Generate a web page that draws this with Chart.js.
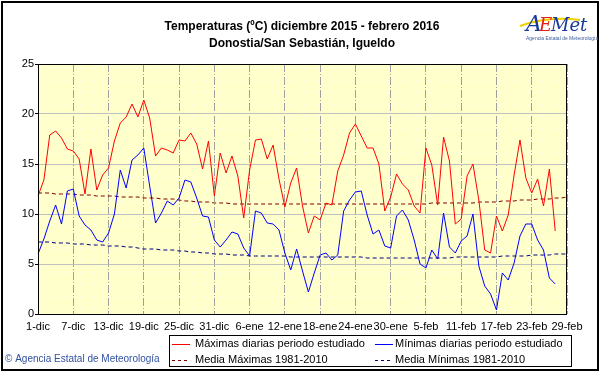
<!DOCTYPE html>
<html>
<head>
<meta charset="utf-8">
<script src="https://cdn.jsdelivr.net/npm/chart.js@4/dist/chart.umd.min.js"></script>
<style>
  html, body { margin: 0; padding: 0; background: #fff; }
  canvas { display: block; }
</style>
</head>
<body>
<canvas id="chart" width="601" height="374"></canvas>
<script>
// months of the period, and how many days each has
const months = ["dic", "ene", "feb"]
const monthDays = [31, 31, 29]

// daily maximum (ºC), 1 dic 2015 .. 29 feb 2016 (no data for the last two days)
const maxDaily = [
  11.8, 13.4, 17.9, 18.3, 17.6, 16.5, 16.3, 15.5, 12.0, 16.5,
  12.4, 13.9, 14.6, 17.3, 19.1, 19.7, 21.0, 19.7, 21.4, 19.6,
  15.8, 16.6, 16.4, 16.1, 17.4, 17.3, 18.1, 17.0, 14.5, 17.3,
  11.8, 16.1, 14.1, 15.8, 13.8, 9.6, 14.4, 17.4, 17.5, 15.5,
  16.9, 13.5, 10.7, 13.1, 14.6, 10.8, 8.1, 9.8, 9.4, 11.1,
  10.9, 14.3, 15.9, 18.1, 19.0, 17.8, 16.6, 16.6, 15.0, 10.3,
  11.7, 14.0, 13.0, 12.4, 10.8, 10.1, 16.6, 14.9, 10.9, 17.7,
  15.3, 9.0, 9.5, 13.8, 15.0, 11.4, 6.4, 6.1, 9.8, 8.3,
  9.9, 13.9, 17.4, 13.6, 12.1, 13.5, 10.8, 14.5, 8.3, null,
  null
]

// daily minimum (ºC)
const minDaily = [
  6.0, 7.5, 9.3, 10.9, 9.0, 12.3, 12.5, 9.8, 8.9, 8.4,
  7.4, 7.2, 8.1, 10.0, 14.4, 12.6, 15.4, 15.9, 16.6, 12.8,
  9.1, 10.1, 11.3, 10.9, 11.6, 13.4, 13.2, 11.6, 9.8, 9.7,
  7.4, 6.7, 7.4, 8.2, 8.0, 6.6, 5.8, 10.3, 10.1, 9.1,
  9.0, 8.4, 6.1, 4.4, 6.5, 4.3, 2.2, 4.1, 5.9, 6.1,
  5.4, 5.9, 10.3, 11.4, 12.2, 12.3, 9.9, 8.0, 8.4, 6.8,
  6.6, 9.8, 10.4, 9.4, 7.4, 5.0, 4.6, 6.4, 5.5, 10.1,
  6.7, 6.1, 7.3, 7.8, 10.0, 4.8, 2.8, 2.0, 0.4, 4.1,
  3.4, 5.1, 7.8, 9.0, 9.0, 7.4, 6.4, 3.6, 3.0, null,
  null
]

// normals 1981-2010
const meanMax = [
  12.1, 12.1, 12.1, 12.0, 12.0, 12.0, 12.0, 11.9, 11.9, 11.9,
  11.8, 11.8, 11.8, 11.8, 11.7, 11.7, 11.7, 11.7, 11.6, 11.6,
  11.6, 11.5, 11.5, 11.5, 11.4, 11.3, 11.3, 11.2, 11.2, 11.2,
  11.1, 11.1, 11.1, 11.0, 11.0, 11.0, 11.0, 11.0, 11.0, 11.0,
  11.0, 11.0, 11.0, 11.0, 11.0, 11.0, 11.0, 11.0, 11.0, 11.0,
  11.0, 11.0, 11.0, 11.0, 11.0, 11.0, 11.0, 11.0, 11.0, 11.0,
  11.0, 11.0, 11.0, 11.0, 11.0, 11.0, 11.0, 11.1, 11.1, 11.1,
  11.1, 11.1, 11.1, 11.1, 11.1, 11.2, 11.2, 11.2, 11.2, 11.3,
  11.3, 11.3, 11.4, 11.4, 11.4, 11.5, 11.5, 11.5, 11.6, 11.6,
  11.7
]

const meanMin = [
  7.2, 7.2, 7.2, 7.1, 7.1, 7.1, 7.0, 7.0, 7.0, 6.9,
  6.9, 6.9, 6.8, 6.8, 6.8, 6.7, 6.7, 6.6, 6.5, 6.5,
  6.5, 6.4, 6.4, 6.4, 6.3, 6.3, 6.2, 6.2, 6.1, 6.1,
  6.0, 6.0, 6.0, 5.9, 5.9, 5.9, 5.8, 5.8, 5.8, 5.8,
  5.8, 5.8, 5.8, 5.7, 5.7, 5.7, 5.7, 5.7, 5.7, 5.7,
  5.7, 5.7, 5.7, 5.7, 5.7, 5.7, 5.6, 5.6, 5.6, 5.6,
  5.6, 5.6, 5.6, 5.6, 5.6, 5.6, 5.6, 5.6, 5.6, 5.6,
  5.6, 5.7, 5.7, 5.7, 5.7, 5.7, 5.7, 5.7, 5.7, 5.8,
  5.8, 5.8, 5.8, 5.8, 5.9, 5.9, 5.9, 5.9, 6.0, 6.0,
  6.0
]

const titleLines = [
  "Temperaturas (ºC) diciembre 2015 - febrero 2016",
  "Donostia/San Sebastián, Igueldo",
]
const seriesNames = [
  "Máximas diarias periodo estudiado",
  "Mínimas diarias periodo estudiado",
  "Media Máximas 1981-2010",
  "Media Mínimas 1981-2010",
]
const seriesColors = ["#ff0000", "#0000ff", "#800000", "#000080"]
const seriesDash = [[], [], [3, 3], [3, 3]]

const dayLabels = []
months.forEach((m, k) => {
  for (let d = 1; d <= monthDays[k]; d++) dayLabels.push(d + "-" + m)
})

const FONT = "'Liberation Sans', Arial, sans-serif"

// yellow background with the little white dots
function dotPattern(ctx) {
  const c = document.createElement("canvas")
  c.width = 14
  c.height = 12
  const p = c.getContext("2d")
  p.fillStyle = "#ffffcc"
  p.fillRect(0, 0, 14, 12)
  p.fillStyle = "#ffffff"
  p.fillRect(3, 2, 1, 1)
  p.fillRect(10, 8, 1, 1)
  return ctx.createPattern(c, "repeat")
}

const decorations = {
  id: "decorations",
  beforeDraw(chart) {
    const { ctx, chartArea: a } = chart
    ctx.save()
    ctx.fillStyle = dotPattern(ctx)
    ctx.fillRect(a.left, a.top, a.right - a.left, a.bottom - a.top)
    ctx.restore()
  },
  afterDraw(chart) {
    const { ctx, chartArea: a } = chart
    ctx.save()

    // plot frame
    ctx.strokeStyle = "#000"
    ctx.lineWidth = 1
    ctx.strokeRect(a.left + 0.5, a.top + 0.5, a.right - a.left - 1, a.bottom - a.top)

    // outer frame
    ctx.lineWidth = 2
    ctx.strokeRect(2, 2, 596, 368)

    // titles
    ctx.fillStyle = "#000"
    ctx.textAlign = "center"
    ctx.textBaseline = "middle"
    ctx.font = "bold 12px " + FONT
    ctx.fillText(titleLines[0], 302, 27)
    ctx.fillText(titleLines[1], 302, 44)

    // logo, roughly
    ctx.textAlign = "left"
    ctx.textBaseline = "alphabetic"
    ctx.strokeStyle = "#f0d000"
    ctx.lineWidth = 2
    ctx.beginPath()
    ctx.moveTo(520, 26)
    ctx.quadraticCurveTo(548, 16, 580, 20)
    ctx.stroke()
    let lx = 526
    ctx.font = "italic 22px 'DejaVu Serif', serif"
    ctx.fillStyle = "#1a3a9a"
    ctx.fillText("A", lx, 31)
    lx += ctx.measureText("A").width - 3
    ctx.fillStyle = "#e0201a"
    ctx.font = "italic 18px 'DejaVu Serif', serif"
    ctx.fillText("E", lx, 31)
    lx += ctx.measureText("E").width - 1
    ctx.fillStyle = "#1a3a9a"
    ctx.fillText("Met", lx, 31)
    ctx.font = "5px " + FONT
    ctx.fillStyle = "#4060a0"
    ctx.fillText("Agencia Estatal de Meteorología", 526, 40)

    // legend
    ctx.strokeStyle = "#000"
    ctx.lineWidth = 1
    ctx.strokeRect(169.5, 335.5, 402, 31)
    ctx.font = "11px " + FONT
    ctx.textBaseline = "middle"
    const cols = [172, 375]
    const textX = [195, 395]
    const rows = [344, 360]
    seriesNames.forEach((name, i) => {
      const x = cols[i % 2]
      const y = rows[Math.floor(i / 2)]
      ctx.strokeStyle = seriesColors[i]
      ctx.setLineDash(seriesDash[i])
      ctx.beginPath()
      ctx.moveTo(x, y + 0.5)
      ctx.lineTo(x + 18, y + 0.5)
      ctx.stroke()
      ctx.setLineDash([])
      ctx.fillStyle = "#000"
      ctx.fillText(name, textX[i % 2], y)
    })

    // credit
    ctx.font = "10px " + FONT
    ctx.fillStyle = "#3050a0"
    ctx.fillText("© Agencia Estatal de Meteorología", 5, 359)
    ctx.restore()
  },
}

const line = (i, data) => ({
  label: seriesNames[i],
  data: data,
  borderColor: seriesColors[i],
  borderWidth: 1,
  borderDash: i > 1 ? [4, 3] : [],
  pointRadius: 0,
  fill: false,
  tension: 0,
  spanGaps: false,
})

new Chart(document.getElementById("chart"), {
  type: "line",
  data: {
    labels: dayLabels,
    datasets: [line(0, maxDaily), line(1, minDaily), line(2, meanMax), line(3, meanMin)],
  },
  options: {
    responsive: false,
    animation: false,
    layout: { padding: { left: 0, top: 64, right: 34, bottom: 0 } },
    plugins: {
      legend: { display: false },
      title: { display: false },
      tooltip: { enabled: false },
    },
    scales: {
      x: {
        type: "category",
        offset: false,
        afterFit: (s) => { s.height = 60 },
        grid: {
          drawTicks: false,
          color: (c) => (c.index % 6 === 0 ? "#a0a0a0" : "transparent"),
          lineWidth: 1,
        },
        border: { display: false, dash: [8, 2, 1, 2] },
        ticks: {
          autoSkip: false,
          maxRotation: 0,
          padding: 6,
          color: "#000",
          font: { family: FONT, size: 11 },
          callback: (v, i) => (i % 6 === 0 ? dayLabels[i] : ""),
        },
      },
      y: {
        min: 0,
        max: 25,
        afterFit: (s) => { s.width = 38 },
        grid: { color: "#c0c0c0", tickLength: 3, tickColor: "#000" },
        border: { display: false },
        ticks: {
          stepSize: 5,
          padding: 1,
          color: "#000",
          font: { family: FONT, size: 11 },
        },
      },
    },
  },
  plugins: [decorations],
})
</script>
</body>
</html>
